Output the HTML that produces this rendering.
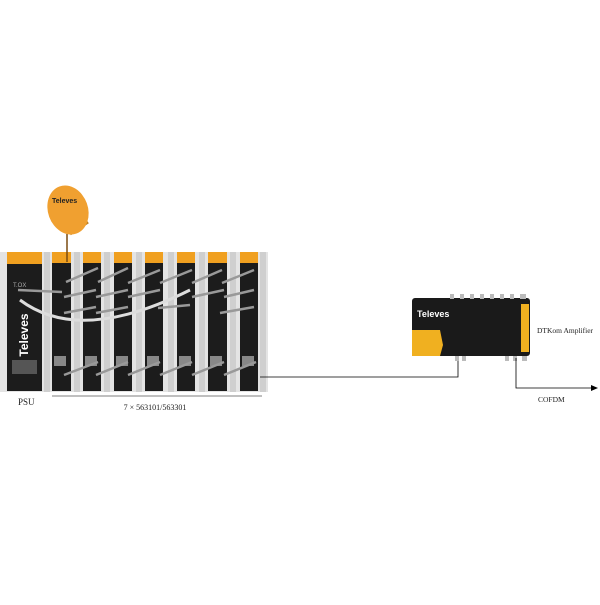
<!DOCTYPE html>
<html><head><style>
body{margin:0;width:600px;height:600px;background:#fff;overflow:hidden;font-family:"Liberation Serif",serif;}
</style></head><body>
<svg width="600" height="600" xmlns="http://www.w3.org/2000/svg">
<rect x="0" y="252" width="268" height="140" fill="#e4e4e4"/>
<g fill="#cfcfcf">
<rect x="44" y="252" width="6" height="140"/><rect x="74" y="252" width="6" height="140"/><rect x="104" y="252" width="6" height="140"/><rect x="136" y="252" width="6" height="140"/><rect x="168" y="252" width="6" height="140"/><rect x="199" y="252" width="6" height="140"/><rect x="230" y="252" width="6" height="140"/><rect x="260" y="252" width="6" height="140"/>
</g>
<rect x="7" y="252" width="35" height="12" fill="#f0a020"/>
<rect x="7" y="264" width="35" height="127" fill="#1c1c1c"/>
<text x="28" y="335" transform="rotate(-90 28 335)" font-family="Liberation Sans,sans-serif" font-weight="bold" font-size="12" fill="#fff" text-anchor="middle">Televes</text>
<text x="13" y="287" font-family="Liberation Sans,sans-serif" font-size="6" fill="#aaa">T.OX</text>
<rect x="12" y="360" width="25" height="14" fill="#555"/>
<g>
<rect x="52" y="252" width="19" height="11" fill="#f0a020"/><rect x="52" y="263" width="19" height="128" fill="#1c1c1c"/>
<rect x="83" y="252" width="18" height="11" fill="#f0a020"/><rect x="83" y="263" width="18" height="128" fill="#1c1c1c"/>
<rect x="114" y="252" width="18" height="11" fill="#f0a020"/><rect x="114" y="263" width="18" height="128" fill="#1c1c1c"/>
<rect x="145" y="252" width="18" height="11" fill="#f0a020"/><rect x="145" y="263" width="18" height="128" fill="#1c1c1c"/>
<rect x="177" y="252" width="18" height="11" fill="#f0a020"/><rect x="177" y="263" width="18" height="128" fill="#1c1c1c"/>
<rect x="208" y="252" width="19" height="11" fill="#f0a020"/><rect x="208" y="263" width="19" height="128" fill="#1c1c1c"/>
<rect x="240" y="252" width="18" height="11" fill="#f0a020"/><rect x="240" y="263" width="18" height="128" fill="#1c1c1c"/>
</g>
<g fill="#888"><rect x="54" y="356" width="12" height="10"/><rect x="85" y="356" width="12" height="10"/><rect x="116" y="356" width="12" height="10"/><rect x="147" y="356" width="12" height="10"/><rect x="179" y="356" width="12" height="10"/><rect x="210" y="356" width="12" height="10"/><rect x="242" y="356" width="12" height="10"/></g>
<g stroke="#999" stroke-width="2.5" fill="none">
<path d="M18 290 L62 292"/><path d="M66 282 L98 268"/><path d="M98 282 L128 268"/><path d="M128 283 L160 270"/><path d="M160 283 L192 270"/><path d="M192 283 L222 270"/><path d="M222 283 L254 270"/>
<path d="M64 297 L96 290"/><path d="M96 297 L128 290"/><path d="M128 297 L160 290"/><path d="M192 297 L224 290"/><path d="M224 297 L254 290"/>
<path d="M64 313 L96 307"/><path d="M96 313 L128 307"/><path d="M158 308 L190 305"/><path d="M220 313 L254 307"/>
<path d="M20 300 Q80 345 190 290" stroke="#ddd" stroke-width="3"/>
<path d="M64 375 L98 362"/><path d="M96 375 L128 362"/><path d="M128 375 L160 362"/><path d="M160 375 L192 362"/><path d="M192 375 L224 362"/><path d="M224 375 L256 362"/>
</g>
<line x1="67" y1="234" x2="67" y2="262" stroke="#7a4a10" stroke-width="1.5"/>
<line x1="70" y1="234" x2="88" y2="222" stroke="#c08020" stroke-width="3"/>
<ellipse cx="68" cy="210" rx="20" ry="25" transform="rotate(-20 68 210)" fill="#f0a030"/>
<text x="52" y="203" font-family="Liberation Sans,sans-serif" font-weight="bold" font-size="7" fill="#222">Televes</text>
<text x="18" y="405" font-size="9" fill="#222">PSU</text>
<line x1="52" y1="396" x2="262" y2="396" stroke="#555" stroke-width="0.8"/>
<text x="155" y="410" font-size="8" text-anchor="middle" fill="#222">7 × 563101/563301</text>
<polyline points="260,377 458,377 458,355" fill="none" stroke="#000" stroke-width="0.8"/>
<rect x="412" y="298" width="118" height="58" rx="3" fill="#1a1a1a"/>
<path d="M412 330 L440 330 L443 345 L440 356 L412 356 Z" fill="#f0b020"/>
<rect x="521" y="304" width="8" height="48" fill="#f0b020"/>
<text x="417" y="317" font-family="Liberation Sans,sans-serif" font-weight="bold" font-size="9" fill="#fff">Televes</text>
<g fill="#bbb"><rect x="450" y="294" width="4" height="5"/><rect x="460" y="294" width="4" height="5"/><rect x="470" y="294" width="4" height="5"/><rect x="480" y="294" width="4" height="5"/><rect x="490" y="294" width="4" height="5"/><rect x="500" y="294" width="4" height="5"/><rect x="510" y="294" width="4" height="5"/><rect x="520" y="294" width="6" height="5"/>
<rect x="455" y="356" width="4" height="5"/><rect x="462" y="356" width="4" height="5"/><rect x="505" y="356" width="4" height="5"/><rect x="513" y="356" width="4" height="5"/><rect x="522" y="356" width="5" height="5"/></g>
<text x="537" y="333" font-size="7.5" fill="#222">DTKom Amplifier</text>
<polyline points="516,358 516,388 592,388" fill="none" stroke="#000" stroke-width="0.8"/>
<path d="M598 388 L591 385 L591 391 Z" fill="#000"/>
<text x="538" y="402" font-size="7.5" fill="#222">COFDM</text>
</svg>
</body></html>
